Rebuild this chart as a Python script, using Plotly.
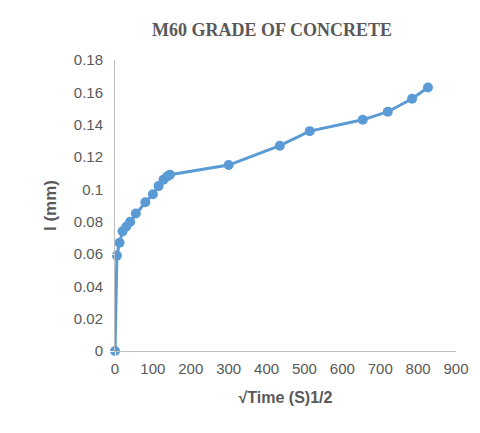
import plotly.graph_objects as go

# sqrt(time) values and penetration I (mm)
root_time = [0, 5, 12, 20, 30, 40, 55, 80, 100, 115, 128, 138, 145, 300, 435, 514, 654, 720, 784, 826]
depth_mm = [0, 0.059, 0.067, 0.074, 0.077, 0.080, 0.085, 0.092, 0.097, 0.102, 0.106, 0.108, 0.109,
            0.115, 0.127, 0.136, 0.143, 0.148, 0.156, 0.163]

fig = go.Figure(go.Scatter(
    x=root_time, y=depth_mm, mode="lines+markers", cliponaxis=False,
    line=dict(color="#5B9BD5", width=3),
    marker=dict(color="#5B9BD5", size=10),
))

fig.update_layout(
    width=480, height=433,
    paper_bgcolor="white", plot_bgcolor="white",
    margin=dict(l=107, r=32, t=52, b=90),
    title=dict(text="<b>M60 GRADE OF CONCRETE</b>", x=0.55, y=0.965,
               font=dict(family="Liberation Serif", size=18, color="#595959")),
    font=dict(family="Liberation Sans", color="#595959", size=15),
    showlegend=False,
)
fig.update_xaxes(range=[0, 900], dtick=100, showgrid=False, showline=True, linecolor="#bfbfbf",
                 zeroline=False, ticks="outside", ticklen=4, tickcolor="white",
                 title=dict(text="<b>√Time (S)1/2</b>", font=dict(size=16), standoff=15))
fig.update_yaxes(range=[0, 0.18], dtick=0.02, showgrid=False, showline=True, linecolor="#bfbfbf",
                 zeroline=False, ticks="outside", ticklen=8, tickcolor="white", tickformat="~g",
                 title=dict(text="<b>I (mm)</b>", font=dict(size=17), standoff=12))

fig.write_html("out.html")
